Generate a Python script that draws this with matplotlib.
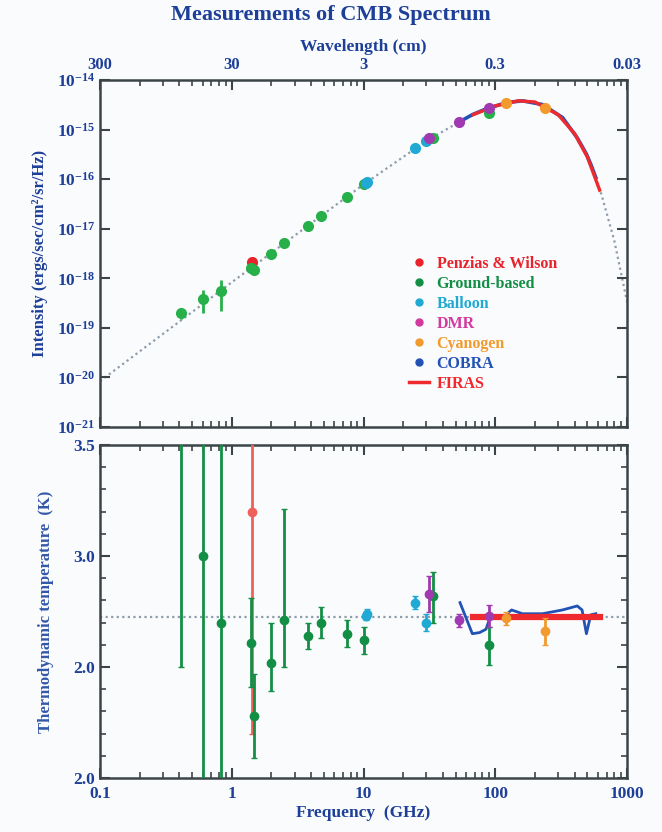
import matplotlib
matplotlib.use("Agg")
import matplotlib.pyplot as plt
from matplotlib.lines import Line2D
from matplotlib.ticker import FixedLocator, NullLocator, LogLocator, NullFormatter
import numpy as np

plt.rcParams['font.family'] = ['Liberation Serif', 'DejaVu Serif']
plt.rcParams['font.weight'] = 'bold'
plt.rcParams['axes.labelweight'] = 'bold'
plt.rcParams['mathtext.fontset'] = 'custom'
plt.rcParams['mathtext.rm'] = 'Liberation Serif:bold'
plt.rcParams['mathtext.it'] = 'Liberation Serif:bold:italic'
plt.rcParams['mathtext.bf'] = 'Liberation Serif:bold'

## valores (frequencia em GHz)
# curva de corpo negro (cinza pontilhado)
bb_freq = [0.1, 1, 10, 30, 60, 100, 150, 200, 300, 400, 500, 640, 800, 1000]
bb_int = [8.4e-21, 8.3e-19, 7.8e-17, 5.9e-16, 1.7e-15, 3.0e-15, 3.8e-15,
          3.6e-15, 2.0e-15, 8.3e-16, 2.8e-16, 4.9e-17, 5.8e-18, 3.4e-19]

# Penzias & Wilson
pw_freq = [1.42]
pw_temp = [3.2]
pw_terr = [1.0]
pw_int = [2.1e-18]
pw_int_lo = [1.5e-18]
pw_int_hi = [2.6e-18]

# Ground-based
gb_freq = [0.41, 0.6, 0.83, 1.41, 1.47, 2.0, 2.5, 3.8, 4.75, 7.5, 10.0, 33.8, 90.0]
gb_temp = [3.8, 3.0, 2.7, 2.61, 2.28, 2.52, 2.71, 2.64, 2.70, 2.65, 2.62, 2.82, 2.60]
gb_terr_lo = [1.3, 1.2, 1.2, 0.20, 0.19, 0.13, 0.21, 0.06, 0.07, 0.06, 0.06, 0.12, 0.09]
gb_terr_hi = [1.3, 1.2, 1.2, 0.20, 0.19, 0.18, 0.50, 0.06, 0.07, 0.06, 0.06, 0.11, 0.08]
gb_int = [2.0e-19, 3.8e-19, 5.6e-19, 1.6e-18, 1.5e-18, 3.1e-18, 5.1e-18,
          1.15e-17, 1.8e-17, 4.3e-17, 7.9e-17, 6.9e-16, 2.2e-15]
gb_int_lo = [0.5e-19, 1.8e-19, 3.4e-19, 0.2e-18, 0.2e-18, 0, 0, 0, 0, 0, 0, 0, 0]
gb_int_hi = [0.4e-19, 2.1e-19, 3.7e-19, 0.2e-18, 0.2e-18, 0, 0, 0, 0, 0, 0, 0, 0]

# Balloon
bl_freq = [10.4, 10.7, 24.8, 30.0]
bl_temp = [2.73, 2.74, 2.79, 2.70]
bl_terr = [0.02, 0.02, 0.03, 0.04]
bl_int = [8.3e-17, 8.9e-17, 4.2e-16, 6.0e-16]

# DMR
dmr_freq = [31.5, 53.0, 90.0]
dmr_temp = [2.83, 2.71, 2.73]
dmr_terr = [0.08, 0.03, 0.05]
dmr_int = [6.9e-16, 1.4e-15, 2.75e-15]

# Cyanogen
cy_freq = [120.0, 240.0]
cy_temp = [2.72, 2.66]
cy_terr = [0.03, 0.06]
cy_int = [3.4e-15, 2.75e-15]

# COBRA
cobra_freq = [54, 67, 76, 85, 93, 113, 133, 161, 228, 324, 419, 456, 492, 531, 580]
cobra_temp = [2.79, 2.65, 2.655, 2.67, 2.735, 2.72, 2.757, 2.74, 2.74, 2.757,
              2.775, 2.757, 2.65, 2.735, 2.74]
cobra_int = [1.45e-15, 2.0e-15, 2.3e-15, 2.6e-15, 2.8e-15, 3.3e-15, 3.6e-15,
             3.8e-15, 3.2e-15, 1.75e-15, 6.8e-16, 4.6e-16, 3.2e-16, 2.0e-16, 1.07e-16]

# FIRAS
firas_freq = [68, 100, 150, 200, 300, 400, 500, 620]
firas_temp = [2.725, 2.725, 2.725, 2.725, 2.725, 2.725, 2.725, 2.725]
firas_int = [2.0e-15, 3.0e-15, 3.8e-15, 3.6e-15, 2.0e-15, 8.3e-16, 2.8e-16, 6.0e-17]

t_cmb = 2.725

freq_ticks = [0.1, 1, 10, 100, 1000]
freq_labels = ['0.1', '1', '10', '100', '1000']
wl_ticks = [300, 30, 3, 0.3, 0.03]
wl_labels = ['300', '30', '3', '0.3', '0.03']
int_ticks = [1e-21, 1e-20, 1e-19, 1e-18, 1e-17, 1e-16, 1e-15, 1e-14]
int_labels = [r'$10^{-21}$', r'$10^{-20}$', r'$10^{-19}$', r'$10^{-18}$',
              r'$10^{-17}$', r'$10^{-16}$', r'$10^{-15}$', r'$10^{-14}$']
temp_ticks = [2.0, 2.5, 3.0, 3.5]
temp_labels = ['2.0', '2.0', '3.0', '3.5']

## cores
c_pw = '#e8232b'
c_gb = '#138f45'
c_bl = '#1fa9d3'
c_dmr = '#a13ab0'
c_cy = '#f29a2e'
c_cobra = '#2352b5'
c_firas = '#ee2a2e'
c_text = '#1d3f98'
c_axis = '#3b4548'
c_gray = '#8e9cab'
bg = '#fafbfd'

fig = plt.figure(figsize=(6.62, 8.32), dpi=100, facecolor=bg)
ax1 = fig.add_axes([100/662, 1-427/832, 527/662, 347/832], facecolor=bg)
ax2 = fig.add_axes([100/662, 1-778/832, 527/662, 333/832], facecolor=bg)

def estilo(ax):
    for s in ax.spines.values():
        s.set_color(c_axis)
        s.set_linewidth(1.8)
    ax.tick_params(which='both', direction='in', colors=c_axis, top=True, right=True,
                   labelcolor=c_text, labelsize=12.5)
    ax.tick_params(which='major', length=7, width=1.5)
    ax.tick_params(which='minor', length=4, width=1.2)

## painel de cima
ax1.set_xscale('log')
ax1.set_yscale('log')
ax1.set_xlim(0.1, 1000)
ax1.set_ylim(1e-21, 1e-14)
ax1.plot(bb_freq, bb_int, ls=(0, (1, 1.5)), color=c_gray, lw=1.6, zorder=1)
ax1.plot(cobra_freq, cobra_int, color=c_cobra, lw=2.6, zorder=2)
ax1.plot(firas_freq, firas_int, color=c_firas, lw=2.4, zorder=3)
ax1.errorbar(gb_freq, gb_int, yerr=[gb_int_lo, gb_int_hi], fmt='o', color='#27b04a',
             ms=7, elinewidth=2, capsize=0, zorder=4)
ax1.errorbar(pw_freq, pw_int, yerr=[np.subtract(pw_int, pw_int_lo), np.subtract(pw_int_hi, pw_int)],
             fmt='o', color=c_pw, ms=7, elinewidth=2, capsize=0, zorder=3)
ax1.plot(bl_freq, bl_int, 'o', color=c_bl, ms=7, zorder=5)
ax1.plot(dmr_freq, dmr_int, 'o', color=c_dmr, ms=7, zorder=6)
ax1.plot(cy_freq, cy_int, 'o', color=c_cy, ms=7, zorder=6)

estilo(ax1)
ax1.yaxis.set_major_locator(FixedLocator(int_ticks))
ax1.set_yticklabels(int_labels)
ax1.yaxis.set_minor_locator(NullLocator())
ax1.xaxis.set_major_locator(FixedLocator(freq_ticks))
ax1.xaxis.set_minor_locator(LogLocator(base=10, subs=np.arange(2, 10)))
ax1.xaxis.set_minor_formatter(NullFormatter())
ax1.set_xticklabels([])
ax1.set_ylabel('Intensity (ergs/sec/cm²/sr/Hz)', color=c_text, fontsize=12, labelpad=6)

top = ax1.secondary_xaxis('top', functions=(lambda f: 30 / f, lambda l: 30 / l))
top.xaxis.set_major_locator(FixedLocator(wl_ticks))
top.set_xticklabels(wl_labels)
top.xaxis.set_minor_locator(NullLocator())
top.tick_params(length=0, labelcolor=c_text, labelsize=12, pad=5)
top.spines['top'].set_visible(False)
top.set_xlabel('Wavelength (cm)', color=c_text, fontsize=12.5, labelpad=4)

handles = [
    Line2D([], [], ls='', marker='o', ms=5, color=c_pw),
    Line2D([], [], ls='', marker='o', ms=5, color=c_gb),
    Line2D([], [], ls='', marker='o', ms=5, color=c_bl),
    Line2D([], [], ls='', marker='o', ms=5, color='#d23aa0'),
    Line2D([], [], ls='', marker='o', ms=5, color=c_cy),
    Line2D([], [], ls='', marker='o', ms=5, color=c_cobra),
    Line2D([], [], color=c_firas, lw=2.5),
]
labels = ['Penzias & Wilson', 'Ground-based', 'Balloon', 'DMR', 'Cyanogen', 'COBRA', 'FIRAS']
leg = ax1.legend(handles, labels, loc='upper left', bbox_to_anchor=(0.56, 0.535),
                 frameon=False, fontsize=11.5, handlelength=1.2, handletextpad=0.5,
                 labelspacing=0.25,
                 labelcolor=[c_pw, c_gb, c_bl, '#d23aa0', c_cy, c_cobra, c_firas])

## painel de baixo
ax2.set_xscale('log')
ax2.set_xlim(0.1, 1000)
ax2.set_ylim(2.0, 3.5)
ax2.axhline(t_cmb, ls=(0, (1, 1.5)), color=c_gray, lw=1.6, zorder=1)
ax2.plot(cobra_freq, cobra_temp, color=c_cobra, lw=2, zorder=2)
ax2.plot(firas_freq, firas_temp, color=c_firas, lw=4.5, zorder=3)
ax2.errorbar(pw_freq, pw_temp, yerr=pw_terr, fmt='o', color='#f0605a', ms=6,
             elinewidth=2, capsize=2, zorder=3)
ax2.errorbar(gb_freq, gb_temp, yerr=[gb_terr_lo, gb_terr_hi], fmt='o', color=c_gb, ms=6,
             elinewidth=2, capsize=2, zorder=4)
ax2.errorbar(bl_freq, bl_temp, yerr=bl_terr, fmt='o', color=c_bl, ms=6,
             elinewidth=2, capsize=2, zorder=5)
ax2.errorbar(dmr_freq, dmr_temp, yerr=dmr_terr, fmt='o', color=c_dmr, ms=6,
             elinewidth=2, capsize=2, zorder=5)
ax2.errorbar(cy_freq, cy_temp, yerr=cy_terr, fmt='o', color=c_cy, ms=6,
             elinewidth=2, capsize=2, zorder=5)

estilo(ax2)
ax2.xaxis.set_major_locator(FixedLocator(freq_ticks))
ax2.set_xticklabels(freq_labels)
ax2.xaxis.set_minor_locator(LogLocator(base=10, subs=np.arange(2, 10)))
ax2.xaxis.set_minor_formatter(NullFormatter())
ax2.yaxis.set_major_locator(FixedLocator(temp_ticks))
ax2.set_yticklabels(temp_labels)
ax2.yaxis.set_minor_locator(FixedLocator(np.arange(2.0, 3.51, 0.1)))
ax2.tick_params(axis='x', pad=6)
ax2.set_xlabel('Frequency  (GHz)', color=c_text, fontsize=12.5, labelpad=2)
ax2.set_ylabel('Thermodynamic temperature  (K)', color='#3358a8', fontsize=12, labelpad=14)

fig.text(0.5, 1 - 15/832, 'Measurements of CMB Spectrum', ha='center', va='center',
         color=c_text, fontsize=16, fontweight='bold')

fig.savefig('out.png', dpi=100, facecolor=bg)
